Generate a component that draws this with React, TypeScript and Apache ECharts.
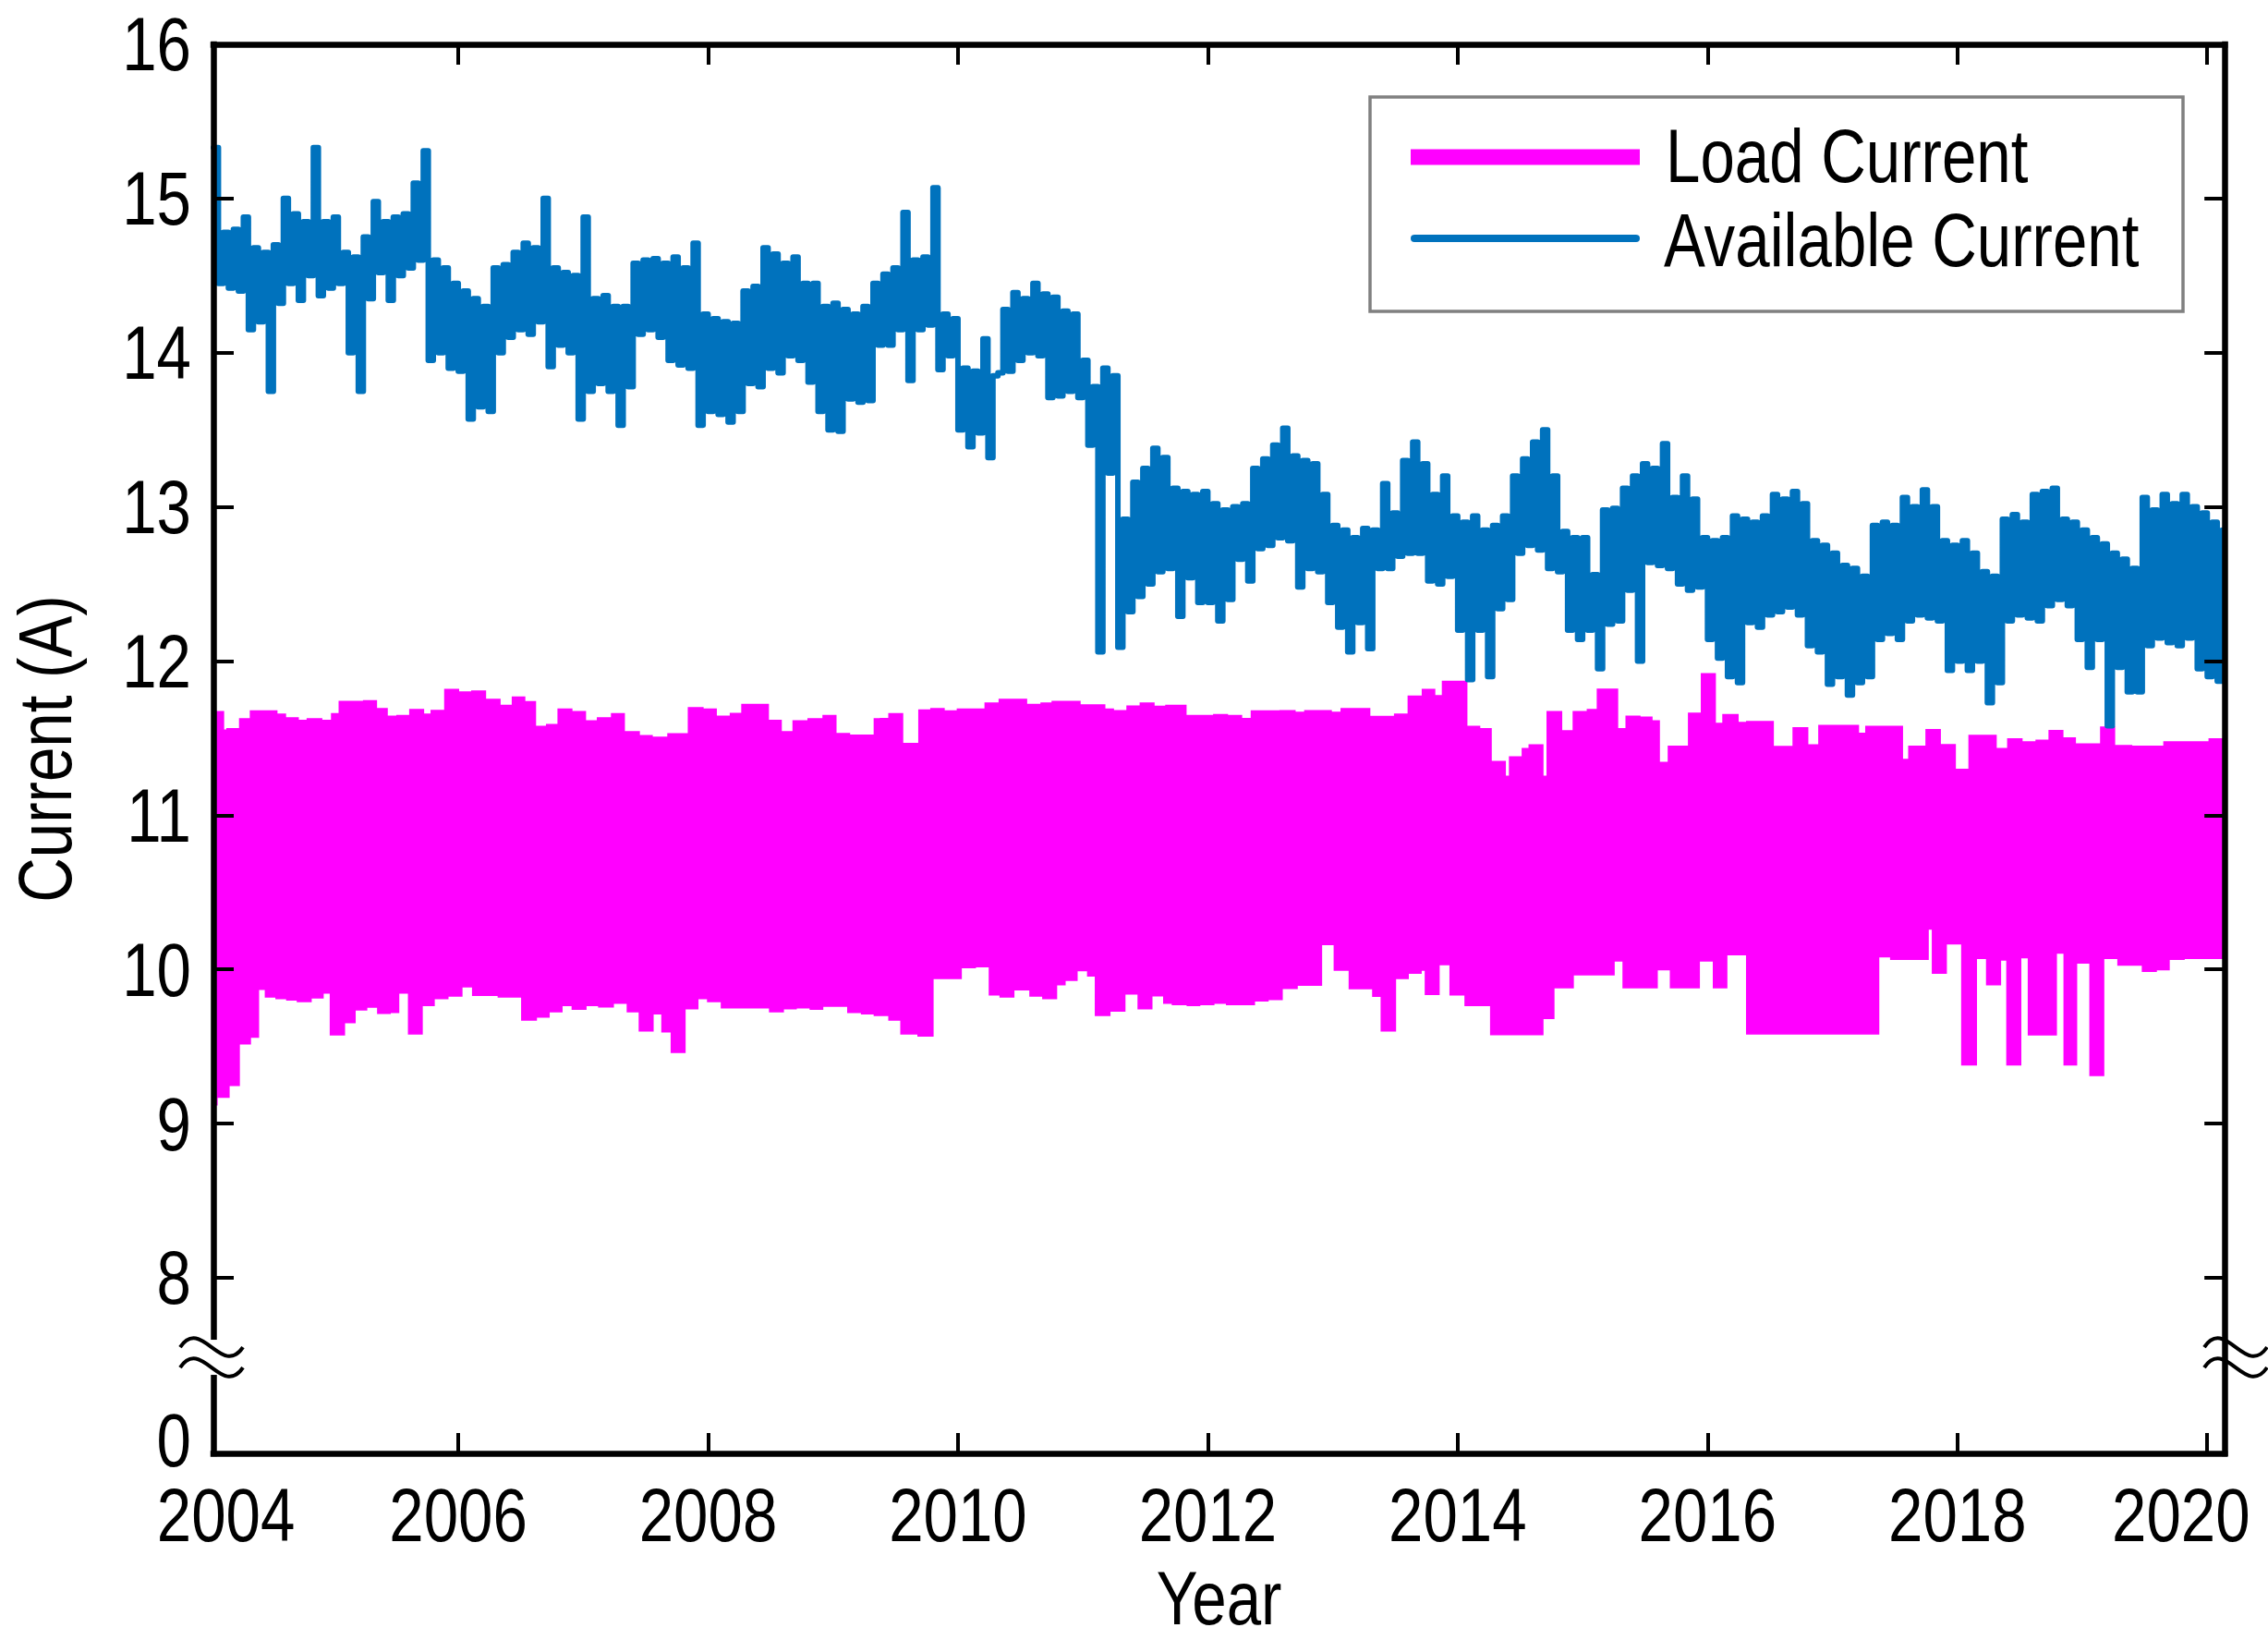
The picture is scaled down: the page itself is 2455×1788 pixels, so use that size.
import React, { useEffect, useRef } from "react";
import * as echarts from "echarts";

const W = 2455;
const H = 1788;
const FONT = '"Liberation Sans", Arial, Helvetica, sans-serif';
const NARROW = 0.82; // horizontal squeeze that turns Arial metrics into Arial-Narrow metrics

// ---- axes -------------------------------------------------------------
const X_MIN = 2004.04;
const X_MAX = 2020.14;
const Y_MIN = 6.861;
const Y_MAX = 16;
const ZERO_POS = 6.95; // where the broken-axis "0" sits
const BREAK_VALUE = 7.484; // centre of the axis break
const xTickYears = [2006, 2008, 2010, 2012, 2014, 2016, 2018, 2020];
const xLabelYears = [2004, 2006, 2008, 2010, 2012, 2014, 2016, 2018, 2020];
const yTickValues = [8, 9, 10, 11, 12, 13, 14, 15, 16];
const yLabelValues = [0, 8, 9, 10, 11, 12, 13, 14, 15, 16];

// ---- Available Current (A), one value every 0.04 yr from 2004.04 --------
const AVAIL_START = 2004.04;
const AVAIL_STEP = 0.04;
const avail2004to2007 = [
  // 2004.04 .. 2004.96
  15.33, 14.45, 14.78, 14.42, 14.8, 14.4, 14.88, 14.15, 14.68, 14.2, 14.65, 13.75, 14.7, 14.32, 15.0, 14.45, 14.9, 14.34, 14.85, 14.5, 15.33, 14.37, 14.85, 14.42,
  // 2005
  14.88, 14.45, 14.65, 14.0, 14.62, 13.75, 14.75, 14.35, 14.98, 14.52, 14.85, 14.34, 14.88, 14.5, 14.9, 14.55, 15.1, 14.6, 15.31, 13.95, 14.6, 14.0, 14.55, 13.9, 14.45,
  // 2006
  13.88, 14.4, 13.57, 14.35, 13.65, 14.3, 13.62, 14.55, 14.0, 14.57, 14.1, 14.65, 14.15, 14.71, 14.12, 14.68, 14.2, 15.0, 13.91, 14.55, 14.05, 14.52, 14.0, 14.5, 13.57,
  // 2007
  14.88, 13.75, 14.35, 13.8, 14.37, 13.75, 14.3, 13.53, 14.3, 13.78, 14.58, 14.12, 14.6, 14.15, 14.61, 14.1, 14.58, 13.95, 14.62, 13.92, 14.55, 13.9, 14.71, 13.53, 14.25,
];
const avail2008to2011 = [
  // 2008
  13.62, 14.22, 13.6, 14.2, 13.55, 14.19, 13.62, 14.4, 13.8, 14.43, 13.78, 14.68, 13.9, 14.64, 13.87, 14.58, 13.98, 14.62, 13.95, 14.45, 13.81, 14.45, 13.62, 14.3, 13.5,
  // 2009
  14.32, 13.49, 14.28, 13.7, 14.25, 13.68, 14.3, 13.69, 14.45, 14.05, 14.51, 14.05, 14.55, 14.15, 14.91, 13.82, 14.6, 14.15, 14.62, 14.18, 15.07, 13.89, 14.25, 13.98, 14.22,
  // 2010
  13.5, 13.9, 13.39, 13.88, 13.48, 14.09, 13.32, 13.85, 13.87, 14.28, 13.88, 14.39, 13.95, 14.35, 14.0, 14.45, 13.98, 14.38, 13.71, 14.36, 13.72, 14.27, 13.75, 14.25, 13.71,
  // 2011
  13.95, 13.4, 13.78, 12.06, 13.9, 13.22, 13.85, 12.09, 12.92, 12.32, 13.16, 12.42, 13.25, 12.5, 13.38, 12.58, 13.32, 12.6, 13.12, 12.29, 13.1, 12.54, 13.08, 12.38, 13.1,
];
const avail2012to2015 = [
  // 2012
  12.38, 13.02, 12.26, 12.98, 12.4, 13.0, 12.66, 13.02, 12.52, 13.25, 12.73, 13.31, 12.75, 13.4, 12.8, 13.51, 12.78, 13.33, 12.48, 13.3, 12.6, 13.28, 12.58, 13.08, 12.38,
  // 2013
  12.88, 12.22, 12.85, 12.06, 12.8, 12.25, 12.86, 12.08, 12.85, 12.6, 13.15, 12.6, 12.96, 12.68, 13.3, 12.7, 13.42, 12.7, 13.28, 12.52, 13.08, 12.5, 13.2, 12.55, 12.94,
  // 2014
  12.2, 12.9, 11.88, 12.94, 12.2, 12.85, 11.9, 12.88, 12.34, 12.94, 12.4, 13.2, 12.7, 13.31, 12.75, 13.42, 12.72, 13.5, 12.6, 13.2, 12.58, 12.84, 12.2, 12.8, 12.14,
  // 2015
  12.8, 12.2, 12.56, 11.95, 12.98, 12.24, 12.99, 12.26, 13.12, 12.46, 13.2, 12.0, 13.28, 12.64, 13.25, 12.62, 13.41, 12.6, 13.06, 12.5, 13.2, 12.46, 13.05, 12.48, 12.8,
];
const avail2016to2020 = [
  // 2016
  12.14, 12.78, 12.02, 12.8, 11.9, 12.94, 11.86, 12.92, 12.25, 12.9, 12.22, 12.94, 12.3, 13.08, 12.32, 13.05, 12.35, 13.1, 12.3, 13.02, 12.1, 12.78, 12.06, 12.75, 11.85,
  // 2017
  12.7, 11.9, 12.62, 11.78, 12.6, 11.86, 12.55, 11.9, 12.88, 12.14, 12.9, 12.18, 12.88, 12.14, 13.06, 12.26, 13.0, 12.3, 13.11, 12.28, 13.0, 12.26, 12.78, 11.94, 12.75,
  // 2018
  12.0, 12.78, 11.94, 12.7, 12.0, 12.58, 11.73, 12.55, 11.86, 12.92, 12.26, 12.95, 12.3, 12.9, 12.28, 13.08, 12.26, 13.1, 12.36, 13.12, 12.4, 12.92, 12.36, 12.9, 12.14,
  // 2019
  12.85, 11.96, 12.8, 12.14, 12.76, 11.58, 12.7, 11.96, 12.66, 11.8, 12.6, 11.8, 13.06, 12.1, 12.98, 12.15, 13.08, 12.12, 13.02, 12.1, 13.08, 12.15, 13.0, 11.95, 12.96,
  // 2020.00 .. 2020.12
  11.9, 12.9, 11.87, 12.85,
];

// ---- Load Current envelope (A): [start year, value] steps ----------------
const LOAD_END = 2020.14;
const loadUpper: [number, number][] = [
  [2004.04, 11.676], [2004.126, 11.556], [2004.143, 11.566], [2004.245, 11.63], [2004.331, 11.68], [2004.553, 11.66],
  [2004.622, 11.636], [2004.724, 11.62], [2004.786, 11.63], [2004.912, 11.62], [2004.981, 11.662], [2005.042, 11.742],
  [2005.237, 11.746], [2005.35, 11.696], [2005.436, 11.646], [2005.504, 11.65], [2005.607, 11.69], [2005.727, 11.66],
  [2005.778, 11.684], [2005.887, 11.82], [2006.007, 11.804], [2006.103, 11.81], [2006.223, 11.756], [2006.339, 11.716],
  [2006.428, 11.77], [2006.537, 11.74], [2006.623, 11.58], [2006.702, 11.592], [2006.794, 11.692], [2006.914, 11.676],
  [2007.023, 11.616], [2007.109, 11.636], [2007.222, 11.662], [2007.334, 11.546], [2007.454, 11.52], [2007.557, 11.51],
  [2007.673, 11.532], [2007.837, 11.702], [2007.964, 11.692], [2008.07, 11.646], [2008.173, 11.664], [2008.265, 11.722],
  [2008.487, 11.62], [2008.59, 11.546], [2008.675, 11.616], [2008.795, 11.63], [2008.915, 11.65], [2009.028, 11.534],
  [2009.137, 11.524], [2009.325, 11.63], [2009.374, 11.632], [2009.442, 11.662], [2009.562, 11.47], [2009.682, 11.686],
  [2009.778, 11.696], [2009.894, 11.68], [2009.99, 11.692], [2010.212, 11.732], [2010.325, 11.756], [2010.554, 11.722],
  [2010.66, 11.732], [2010.749, 11.742], [2010.982, 11.72], [2011.18, 11.692], [2011.249, 11.682], [2011.348, 11.712],
  [2011.454, 11.732], [2011.574, 11.71], [2011.659, 11.716], [2011.83, 11.65], [2012.042, 11.656], [2012.162, 11.65],
  [2012.275, 11.632], [2012.343, 11.68], [2012.573, 11.682], [2012.703, 11.672], [2012.771, 11.682], [2012.993, 11.672],
  [2013.062, 11.696], [2013.301, 11.644], [2013.49, 11.66], [2013.599, 11.776], [2013.712, 11.82], [2013.821, 11.78],
  [2013.873, 11.872], [2014.078, 11.58], [2014.181, 11.566], [2014.273, 11.352], [2014.386, 11.256], [2014.41, 11.382],
  [2014.512, 11.436], [2014.567, 11.46], [2014.687, 11.256], [2014.711, 11.676], [2014.837, 11.552], [2014.92, 11.676],
  [2015.033, 11.69], [2015.113, 11.822], [2015.285, 11.566], [2015.343, 11.646], [2015.464, 11.64], [2015.56, 11.616],
  [2015.619, 11.346], [2015.681, 11.452], [2015.843, 11.666], [2015.946, 11.922], [2016.067, 11.6], [2016.118, 11.656],
  [2016.249, 11.606], [2016.308, 11.612], [2016.531, 11.45], [2016.68, 11.572], [2016.807, 11.46], [2016.886, 11.586],
  [2017.213, 11.536], [2017.262, 11.58], [2017.565, 11.366], [2017.606, 11.452], [2017.744, 11.56], [2017.868, 11.462],
  [2017.988, 11.302], [2018.088, 11.522], [2018.315, 11.436], [2018.398, 11.5], [2018.522, 11.48], [2018.625, 11.49],
  [2018.729, 11.554], [2018.849, 11.506], [2018.949, 11.466], [2019.142, 11.576], [2019.263, 11.456], [2019.4, 11.452],
  [2019.648, 11.48], [2020.01, 11.5],
];
const loadLower: [number, number][] = [
  [2004.04, 9.117], [2004.074, 9.167], [2004.17, 9.243], [2004.252, 9.513], [2004.341, 9.557], [2004.406, 9.867],
  [2004.451, 9.817], [2004.536, 9.807], [2004.622, 9.797], [2004.707, 9.787], [2004.827, 9.811], [2004.923, 9.843],
  [2004.971, 9.571], [2005.094, 9.651], [2005.179, 9.733], [2005.272, 9.751], [2005.35, 9.711], [2005.46, 9.717],
  [2005.528, 9.843], [2005.597, 9.577], [2005.716, 9.761], [2005.812, 9.807], [2005.922, 9.823], [2006.034, 9.883],
  [2006.11, 9.827], [2006.315, 9.817], [2006.503, 9.667], [2006.63, 9.687], [2006.732, 9.721], [2006.835, 9.761],
  [2006.907, 9.737], [2007.027, 9.761], [2007.119, 9.753], [2007.246, 9.777], [2007.348, 9.721], [2007.444, 9.597],
  [2007.564, 9.707], [2007.625, 9.591], [2007.7, 9.457], [2007.82, 9.741], [2007.923, 9.807], [2007.991, 9.787],
  [2008.101, 9.747], [2008.487, 9.721], [2008.607, 9.741], [2008.71, 9.747], [2008.812, 9.737], [2008.922, 9.757],
  [2009.113, 9.717], [2009.223, 9.707], [2009.325, 9.697], [2009.442, 9.667], [2009.538, 9.577], [2009.675, 9.563],
  [2009.805, 9.937], [2010.031, 10.007], [2010.144, 10.013], [2010.246, 9.831], [2010.332, 9.817], [2010.452, 9.863],
  [2010.571, 9.823], [2010.674, 9.807], [2010.794, 9.897], [2010.862, 9.925], [2010.958, 9.987], [2011.033, 9.953],
  [2011.095, 9.697], [2011.221, 9.725], [2011.341, 9.837], [2011.437, 9.741], [2011.557, 9.825], [2011.642, 9.777],
  [2011.711, 9.767], [2011.83, 9.761], [2011.94, 9.767], [2012.053, 9.777], [2012.145, 9.767], [2012.378, 9.791],
  [2012.487, 9.801], [2012.6, 9.873], [2012.72, 9.893], [2012.915, 10.157], [2013.007, 9.991], [2013.127, 9.871],
  [2013.315, 9.821], [2013.383, 9.597], [2013.507, 9.937], [2013.609, 9.971], [2013.712, 9.991], [2013.736, 9.833],
  [2013.856, 10.027], [2013.934, 9.831], [2014.054, 9.761], [2014.259, 9.573], [2014.687, 9.677], [2014.775, 9.877],
  [2014.93, 9.961], [2015.257, 10.051], [2015.319, 9.877], [2015.602, 9.993], [2015.698, 9.877], [2015.939, 10.051],
  [2016.042, 9.877], [2016.159, 10.091], [2016.308, 9.577], [2017.375, 10.077], [2017.461, 10.061], [2017.771, 10.257],
  [2017.795, 9.971], [2017.916, 10.161], [2018.03, 9.377], [2018.157, 10.067], [2018.229, 9.897], [2018.35, 10.057],
  [2018.391, 9.377], [2018.512, 10.071], [2018.563, 9.571], [2018.797, 10.101], [2018.849, 9.377], [2018.959, 10.037],
  [2019.056, 9.307], [2019.176, 10.067], [2019.28, 10.023], [2019.476, 9.983], [2019.597, 9.993], [2019.7, 10.061],
  [2019.82, 10.067],
];

const MAGENTA = "#ff00ff";
const BLUE = "#0072bd";

// layout (pixels)
const GRID_LEFT = 229;
const GRID_RIGHT_X = 2420;
const GRID_TOP = 48;
const GRID_BOTTOM_Y = 1573;

function buildOption() {
  const availValues = [...avail2004to2007, ...avail2008to2011, ...avail2012to2015, ...avail2016to2020];
  const availData = availValues.map((v, i) => [+(AVAIL_START + i * AVAIL_STEP).toFixed(2), v]);

  const labelPos = xLabelYears.map((y, i) =>
    i === 0 ? y + 0.14 : i === xLabelYears.length - 1 ? y - 0.21 : y
  );
  const yLabelPos = yLabelValues.map((v) => (v === 0 ? ZERO_POS : v));

  const axisLine = { show: true, lineStyle: { color: "#000", width: 6.5, cap: "square" } };
  const tickStyle = { color: "#000", width: 4 };

  const xCommon = {
    type: "value",
    min: X_MIN,
    max: X_MAX,
    splitLine: { show: false },
    axisLine,
    z: 10,
  };
  const yCommon = {
    type: "value",
    min: Y_MIN,
    max: Y_MAX,
    splitLine: { show: false },
    axisLine,
    z: 10,
  };

  return {
    animation: false,
    backgroundColor: "#fff",
    grid: {
      left: GRID_LEFT,
      top: GRID_TOP,
      width: GRID_RIGHT_X - GRID_LEFT,
      height: GRID_BOTTOM_Y - GRID_TOP,
      containLabel: false,
    },
    xAxis: [
      {
        ...xCommon,
        position: "bottom",
        name: "Year",
        nameLocation: "middle",
        nameGap: 116,
        nameTextStyle: { fontFamily: FONT, fontSize: 82, color: "#000" },
        axisTick: { show: true, inside: true, length: 22, lineStyle: tickStyle, customValues: xTickYears },
        axisLabel: {
          show: true,
          customValues: labelPos,
          formatter: (v: number) => String(Math.round(v / 2) * 2),
          fontFamily: FONT,
          fontSize: 82,
          color: "#000",
          margin: 26,
        },
      },
      {
        ...xCommon,
        position: "top",
        axisTick: { show: true, inside: true, length: 22, lineStyle: tickStyle, customValues: xTickYears },
        axisLabel: { show: false },
      },
    ],
    yAxis: [
      {
        ...yCommon,
        position: "left",
        name: "Current (A)",
        nameLocation: "middle",
        nameGap: 182,
        nameRotate: 90,
        nameTextStyle: { fontFamily: FONT, fontSize: 82, color: "#000", verticalAlign: "middle", align: "center" },
        axisTick: { show: true, inside: true, length: 22, lineStyle: tickStyle, customValues: yTickValues },
        axisLabel: {
          show: true,
          customValues: yLabelPos,
          formatter: (v: number) => (v < 7.5 ? "0" : String(Math.round(v))),
          fontFamily: FONT,
          fontSize: 82,
          color: "#000",
          margin: 24,
        },
      },
      {
        ...yCommon,
        position: "right",
        axisTick: { show: true, inside: true, length: 22, lineStyle: tickStyle, customValues: yTickValues },
        axisLabel: { show: false },
      },
    ],
    series: [
      {
        name: "Load Current",
        type: "custom",
        xAxisIndex: 0,
        yAxisIndex: 0,
        clip: true,
        z: 2,
        data: loadUpper,
        renderItem: (params: any, api: any) => {
          if (params.dataIndex !== 0) return null;
          const pts: number[][] = [];
          for (let k = 0; k < loadUpper.length; k++) {
            const x0 = loadUpper[k][0];
            const x1 = k + 1 < loadUpper.length ? loadUpper[k + 1][0] : LOAD_END;
            pts.push(api.coord([x0, loadUpper[k][1]]), api.coord([x1, loadUpper[k][1]]));
          }
          for (let k = loadLower.length - 1; k >= 0; k--) {
            const x0 = loadLower[k][0];
            const x1 = k + 1 < loadLower.length ? loadLower[k + 1][0] : LOAD_END;
            pts.push(api.coord([x1, loadLower[k][1]]), api.coord([x0, loadLower[k][1]]));
          }
          return { type: "polygon", shape: { points: pts }, style: { fill: MAGENTA } };
        },
      },
      {
        name: "Available Current",
        type: "line",
        xAxisIndex: 0,
        yAxisIndex: 0,
        data: availData,
        step: "end",
        showSymbol: false,
        symbol: "none",
        clip: true,
        z: 3,
        lineStyle: { color: BLUE, width: 6, join: "round", cap: "round" },
      },
    ],
  };
}

function tilde(x0: number, w: number, ym: number, h: number) {
  return {
    type: "bezierCurve",
    z: 101,
    shape: {
      x1: x0,
      y1: ym,
      cpx1: x0 + w / 3,
      cpy1: ym - h,
      cpx2: x0 + (2 * w) / 3,
      cpy2: ym + h,
      x2: x0 + w,
      y2: ym,
    },
    style: { stroke: "#000", lineWidth: 4, fill: null },
  };
}

function buildGraphics(breakY: number) {
  const els: any[] = [];
  [GRID_LEFT, GRID_RIGHT_X].forEach((cx) => {
    els.push({
      type: "rect",
      z: 100,
      shape: { x: cx - 8, y: breakY - 19, width: 16, height: 38 },
      style: { fill: "#fff" },
    });
    els.push(tilde(cx - 34, 68, breakY - 11, 34));
    els.push(tilde(cx - 34, 68, breakY + 11, 34));
  });
  // legend
  els.push({
    type: "rect",
    z: 50,
    shape: { x: 1483, y: 105, width: 880, height: 232 },
    style: { fill: "#fff", stroke: "#808080", lineWidth: 3.5 },
  });
  els.push({
    type: "line",
    z: 51,
    shape: { x1: 1527, y1: 170, x2: 1775, y2: 170 },
    style: { stroke: MAGENTA, lineWidth: 17, lineCap: "butt" },
  });
  els.push({
    type: "line",
    z: 51,
    shape: { x1: 1531, y1: 258, x2: 1771, y2: 258 },
    style: { stroke: BLUE, lineWidth: 8, lineCap: "round" },
  });
  els.push({
    type: "text",
    z: 51,
    x: 1803,
    y: 169,
    style: { text: "Load Current", font: `82px ${FONT}`, fill: "#000", align: "left", verticalAlign: "middle" },
  });
  els.push({
    type: "text",
    z: 51,
    x: 1801,
    y: 260,
    style: { text: "Available Current", font: `82px ${FONT}`, fill: "#000", align: "left", verticalAlign: "middle" },
  });
  return els;
}

// Squeeze every SVG text horizontally about its own anchor (Arial -> Arial-Narrow look).
function narrowTexts(root: HTMLElement, done: WeakMap<Element, string>) {
  root.querySelectorAll("svg text").forEach((t) => {
    const cur = t.getAttribute("transform") || "";
    if (done.get(t) === cur) return;
    const x = parseFloat(t.getAttribute("x") || "0") || 0;
    const y = parseFloat(t.getAttribute("y") || "0") || 0;
    const next = `${cur} translate(${x} ${y}) scale(${NARROW} 1) translate(${-x} ${-y})`.trim();
    t.setAttribute("transform", next);
    done.set(t, next);
  });
}

export default function App() {
  const ref = useRef<HTMLDivElement>(null);
  useEffect(() => {
    const el = ref.current;
    if (!el) return;
    const chart = echarts.init(el, undefined, { renderer: "svg", width: W, height: H });
    chart.setOption(buildOption() as any);
    const by = chart.convertToPixel({ yAxisIndex: 0 }, BREAK_VALUE) as number;
    chart.setOption({ graphic: { elements: buildGraphics(by) } } as any);
    const done = new WeakMap<Element, string>();
    const apply = () => narrowTexts(el, done);
    apply();
    chart.on("finished", apply);
    chart.on("rendered", apply);
    const raf = requestAnimationFrame(apply);
    const t1 = window.setTimeout(apply, 50);
    return () => {
      cancelAnimationFrame(raf);
      window.clearTimeout(t1);
      chart.dispose();
    };
  }, []);
  return (
    <div
      ref={ref}
      style={{ position: "absolute", left: 0, top: 0, width: W, height: H, background: "#fff" }}
    />
  );
}
